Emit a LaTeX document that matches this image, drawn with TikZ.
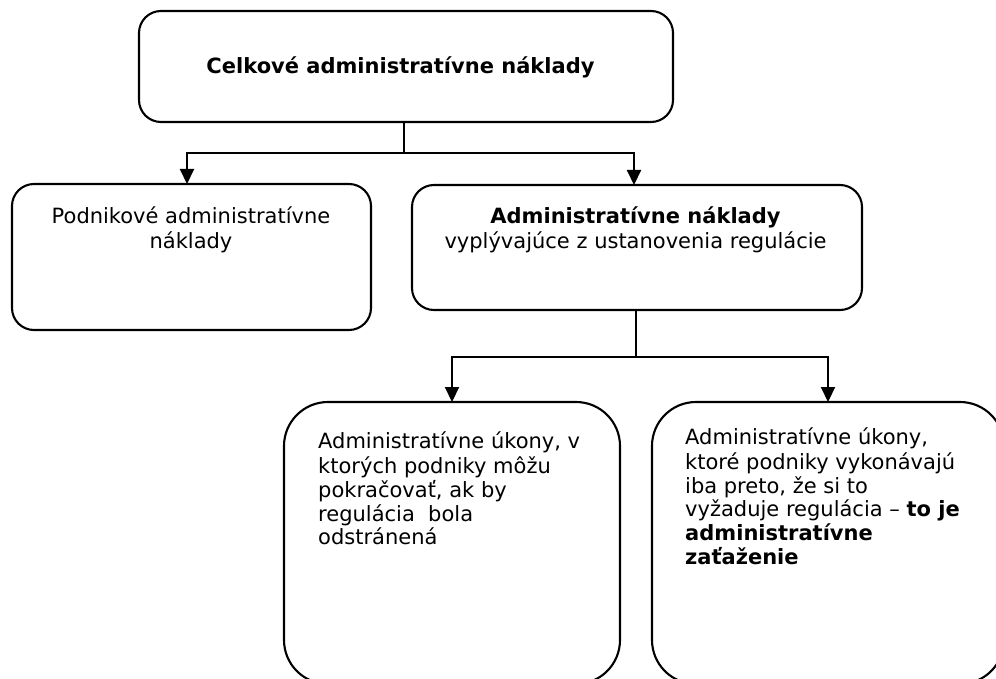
\documentclass[tikz,border=0pt]{standalone}
\usepackage{fontspec}
\setmainfont{DejaVu Sans}
\usetikzlibrary{arrows.meta}
\begin{document}
\begin{tikzpicture}[x=1pt,y=-1pt,
  bx/.style={draw, line width=2.1pt, inner sep=0pt, outer sep=0pt, rounded corners=22pt},
  bigbx/.style={bx, rounded corners=44pt},
  ln/.style={line width=2.1pt},
  arr/.style={line width=2.1pt, {Triangle[width=14pt,length=15pt]}-{Triangle[width=14pt,length=15pt]}},
  txt/.style={inner sep=0pt, font=\fontsize{21}{23.7}\selectfont}]
\useasboundingbox (0,0) rectangle (996,679);
\fill[white] (0,0) rectangle (996,679);
\clip (0,0) rectangle (996,679);
% boxes
\node[bx, minimum width=534pt, minimum height=111pt] (top) at (406,66.5) {};
\node[bx, minimum width=359pt, minimum height=146pt] (left) at (191.5,257) {};
\node[bx, minimum width=450pt, minimum height=125pt] (mid) at (637,247.5) {};
\node[bigbx, minimum width=336pt, minimum height=282pt] (bl) at (452,543) {};
\node[bigbx, minimum width=352pt, minimum height=282pt] (br) at (828,543) {};
% connectors
\coordinate (j1) at (404,153);
\draw[ln] (top.south -| j1) -- (j1);
\draw[arr] ([xshift=-4.5pt]left.north) |- (j1) -| ([xshift=-3pt]mid.north);
\coordinate (j2) at (636,357);
\draw[ln] (mid.south -| j2) -- (j2);
\draw[arr] (bl.north) |- (j2) -| (br.north);
% texts
\node[txt, anchor=base, font=\fontsize{21}{23.7}\selectfont\bfseries] (tt) at (400.5,74) {Celkové administratívne náklady};
\node[txt, align=center, anchor=north] (lt) at (191,206.4) {\strut Podnikové administratívne\\náklady};
\node[txt, align=center, anchor=north] (mt) at (635.5,206.4) {\strut\textbf{Administratívne náklady}\\vyplývajúce z ustanovenia regulácie};
\node[txt, align=left, anchor=north west] (blt) at (318,431.9) {\strut Administratívne úkony, v\\ktorých podniky môžu\\pokračovať, ak by\\regulácia\ \ bola\\odstránená};
\node[txt, align=left, anchor=north west] (brt) at (685,427.4) {\strut Administratívne úkony,\\ktoré podniky vykonávajú\\iba preto, že si to\\vyžaduje regulácia – \textbf{to je}\\\textbf{administratívne}\\\textbf{zaťaženie}};
\end{tikzpicture}
\end{document}
